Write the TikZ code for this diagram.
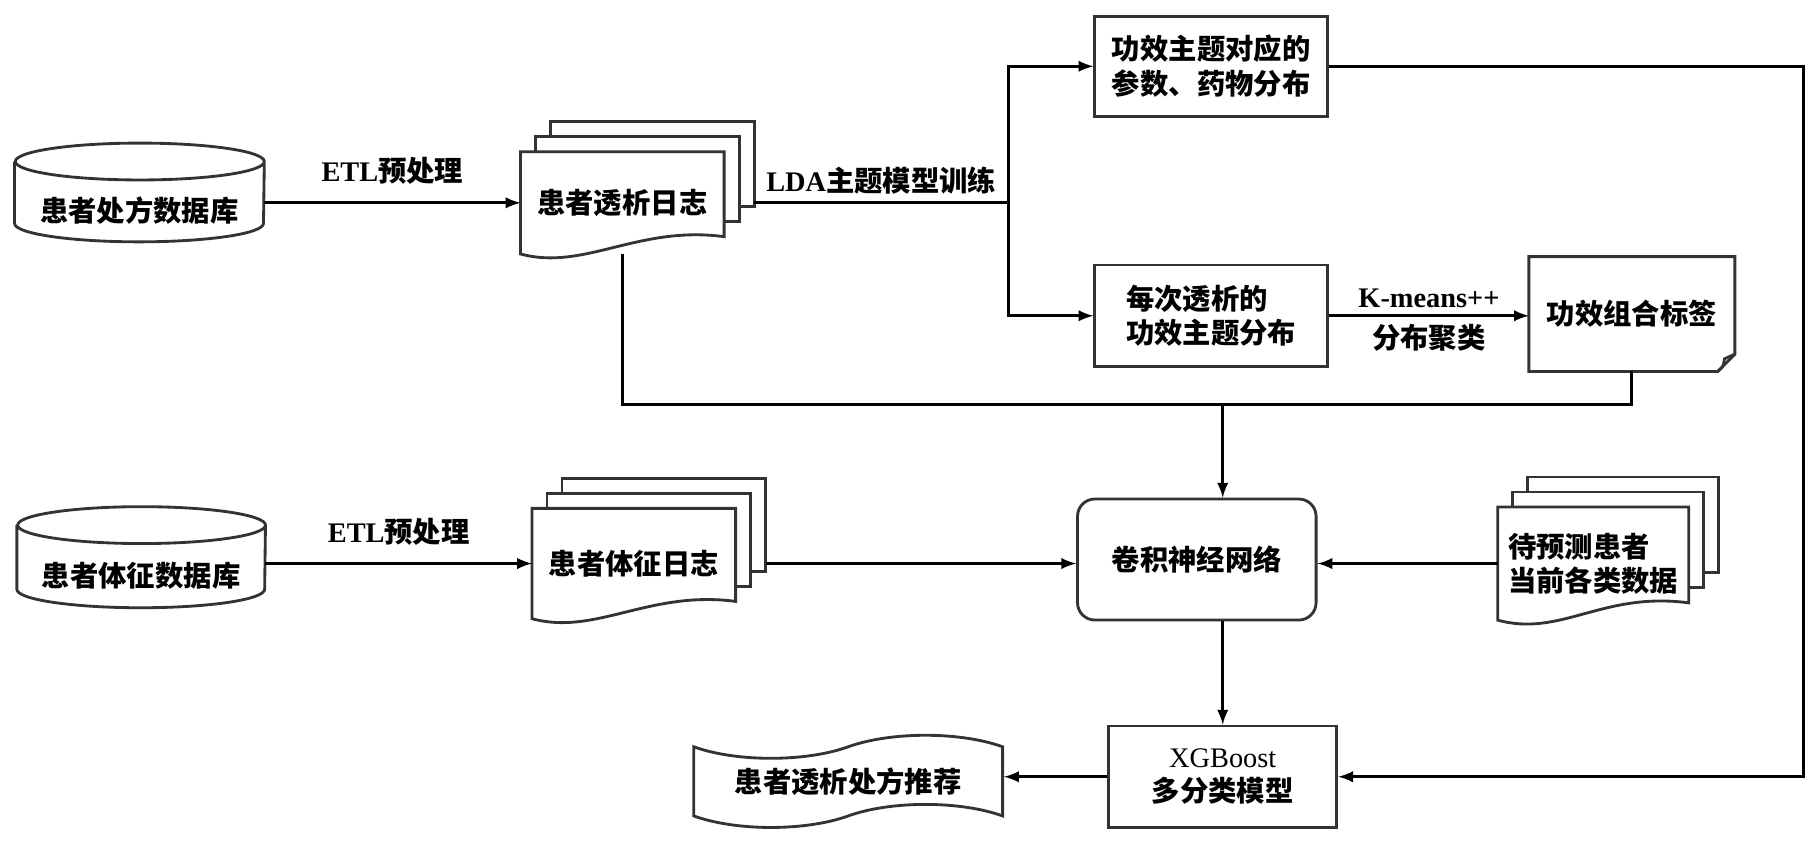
\documentclass[tikz,border=0pt]{standalone}
\usepackage{fontspec}
\setmainfont{Liberation Serif}
\newfontfamily\cjk{Noto Sans CJK SC}
\usepackage{tikz}
\usetikzlibrary{arrows, shapes.symbols, backgrounds}

\newcommand{\lat}[1]{{\rmfamily #1}}
% Datenbank: Zylinder um den Knoten
\newcommand{\dbcyl}[2]{%
  \draw[shapeline] ([yshift=0.32cm]#1.north west) -- ([yshift=0.32cm]#1.south west)
    arc[start angle=180, end angle=360, x radius=#2, y radius=0.32cm]
    -- ([yshift=0.32cm]#1.north east)
    arc[start angle=0, end angle=360, x radius=#2, y radius=0.32cm];}
% Dokumentstapel: zwei Blaetter hinten, vorne mit Welle
\newcommand{\docstack}[1]{%
  \foreach \k in {2,1}
    \draw[shapeline, fill=white] ([shift={(\k*0.26cm,\k*0.26cm+0.3cm)}]#1.south west)
      rectangle ([shift={(\k*0.26cm,\k*0.26cm)}]#1.north east);
  \draw[shapeline, fill=white] (#1.south west)
    .. controls ([xshift=1.1cm,yshift=-0.3cm]#1.south west) and ([xshift=-1.5cm,yshift=0.5cm]#1.south east)
    .. ([yshift=0.3cm]#1.south east) -- (#1.north east) -- (#1.north west) -- cycle;}

\begin{document}
\begin{tikzpicture}[>=latex, % Pfeilspitzen
    font=\cjk\bfseries\fontsize{14}{17}\selectfont,
    shapeline/.style={draw=black!80, line width=1.4pt},
    link/.style={draw=black, line width=1.5pt},
    box/.style={shapeline, rectangle, inner sep=2pt},
    plain/.style={rectangle, inner sep=2pt}]
  \useasboundingbox (0,0) rectangle (31.36,-14.68);
  % Knoten
  \node[plain, minimum width=4.32cm, minimum height=1.06cm] (db1) at (2.42,-3.66) {患者处方数据库};
  \node[plain, minimum width=4.3cm, minimum height=1.1cm] (db2) at (2.45,-9.99) {患者体征数据库};
  \node[plain, minimum width=3.52cm, minimum height=1.76cm] (doc1) at (10.8,-3.52) {患者透析日志};
  \node[plain, minimum width=3.52cm, minimum height=1.9cm] (doc2) at (11.0,-9.78) {患者体征日志};
  \node[plain, minimum width=3.3cm, minimum height=1.95cm, align=left] (doc3) at (27.65,-9.78) {待预测患者\\当前各类数据};
  \node[box, minimum width=4.04cm, minimum height=1.74cm, align=left] (tbox) at (21.02,-1.15) {功效主题对应的\\参数、药物分布};
  \node[box, minimum width=4.04cm, minimum height=1.76cm, align=left] (mbox) at (21.02,-5.48) {每次透析的\\功效主题分布};
  \node[plain, minimum width=3.56cm, minimum height=1.98cm] (labdoc) at (28.32,-5.45) {功效组合标签};
  \node[box, rounded corners=0.3cm, minimum width=4.14cm, minimum height=2.1cm] (cnn) at (20.77,-9.71) {卷积神经网络};
  \node[box, minimum width=3.96cm, minimum height=1.76cm, align=center] (xgb) at (21.22,-13.48) {{\rmfamily\mdseries XGBoost}\\多分类模型};
  \node[tape, shapeline, minimum width=5.36cm, minimum height=1.6cm, tape bend height=0.4cm] (rec) at (14.72,-13.56) {患者透析处方推荐};
  \coordinate (split) at (17.5,-3.52);
  \coordinate (rim) at (31.3,-1.15);
  \coordinate (bus) at (10.8,-7.02);
  % Umrisse
  \begin{pgfonlayer}{background}
    \dbcyl{db1}{2.16cm}
    \dbcyl{db2}{2.15cm}
    \docstack{doc1}
    \docstack{doc2}
    \docstack{doc3}
    \draw[shapeline, fill=white] (labdoc.north west) -- (labdoc.south west) -- ([xshift=-0.3cm]labdoc.south east)
      -- ([yshift=0.3cm]labdoc.south east) -- (labdoc.north east) -- cycle;
    \draw[shapeline] ([xshift=-0.3cm]labdoc.south east) .. controls ([xshift=-0.2cm,yshift=0.08cm]labdoc.south east)
      .. ([xshift=-0.18cm,yshift=0.22cm]labdoc.south east) -- ([yshift=0.3cm]labdoc.south east);
  \end{pgfonlayer}
  % Verbindungen
  \draw[link, ->] (db1.east |- doc1.west) -- (doc1.west) node[midway, above=5pt] (etl1) {\lat{ETL}预处理};
  \draw[link, ->] (db2.east |- doc2.west) -- (doc2.west) node[midway, above=5pt] (etl2) {\lat{ETL}预处理};
  \draw[link] ([xshift=0.52cm]doc1.east) -- (split) node[midway, above] (lda) {\lat{LDA}主题模型训练};
  \draw[link, ->] (split) |- (tbox.west);
  \draw[link, ->] (split) |- (mbox.west);
  \draw[link, ->] (mbox.east) -- (mbox.east -| labdoc.west) node[midway, above] (km) {\lat{K-means++}}
    node[midway, below] (clu) {分布聚类};
  \draw[link, ->] (tbox.east) -- (rim) |- (xgb.east);
  \draw[link] (doc1.south) -- (bus) -| (labdoc.south);
  \draw[link, ->] (bus -| xgb.north) -- (cnn.north -| xgb.north);
  \draw[link, ->] ([xshift=0.52cm]doc2.east) -- (cnn.west |- doc2.east);
  \draw[link, ->] (doc3.west) -- (cnn.east |- doc3.west);
  \draw[link, ->] (cnn.south -| xgb.north) -- (xgb.north);
  \draw[link, ->] (xgb.west) -- (rec.east |- xgb.west);
\end{tikzpicture}
\end{document}
